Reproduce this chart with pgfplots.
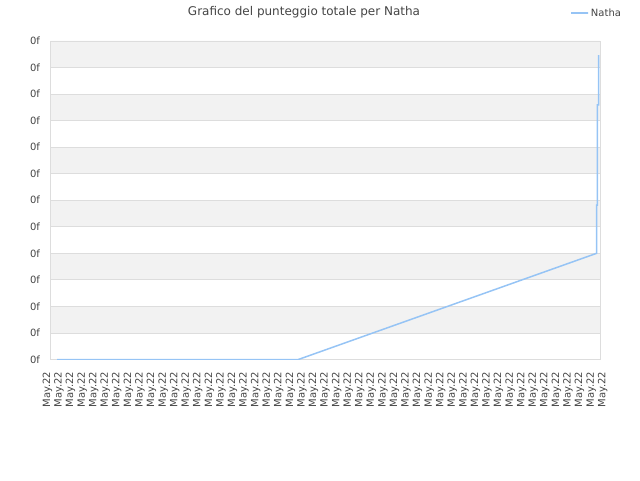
\documentclass[border=0pt]{standalone}
\usepackage{fontspec}
\setmainfont{DejaVu Sans}
\usepackage{pgfplots}
\pgfplotsset{compat=1.18}
\definecolor{linec}{RGB}{150,196,245}
\definecolor{band}{RGB}{242,242,242}
\definecolor{gridc}{RGB}{221,221,221}
\definecolor{txt}{RGB}{68,68,68}
\begin{document}
\begin{tikzpicture}[x=1pt,y=1pt]
\path (0,0) rectangle (640,480);
\node[font=\fontsize{12}{14}\selectfont, text=txt] at (304,468) {Grafico del punteggio totale per Natha};
\begin{axis}[
  set layers,
  at={(50.5pt,120.5pt)}, anchor=south west,
  scale only axis, width=549.5pt, height=318.5pt,
  xmin=0, xmax=48, ymin=0, ymax=12,
  xtick={0,...,48}, ytick={0,...,12},
  xticklabel={May.22}, yticklabel={0f},
  major tick length=0pt,
  ymajorgrids, major grid style={gridc, line width=0.8pt},
  axis line style={gridc, line width=0.8pt},
  xticklabel style={xshift={-3.1pt+0.12pt*\ticknum}, rotate=90, anchor=east, font=\fontsize{10}{12}\selectfont, text=txt},
  yticklabel style={anchor=east, font=\fontsize{10}{12}\selectfont, text=txt},
  xticklabel shift={9pt},
  yticklabel shift={7pt},
  legend style={draw=none, fill=none, at={(rel axis cs:0.94,1.088)}, anchor=west,
    font=\fontsize{10}{12}\selectfont, text=txt},
  legend image code/.code={\path (0pt,0pt) rectangle (17pt,0pt); \draw[#1, line width=2pt] (0pt,0pt) -- (10pt,0pt);},
]
\addplot[draw=none, fill=band, forget plot, on layer=axis background] coordinates {(0,1) (48,1) (48,2) (0,2) (0,1)};
\addplot[draw=none, fill=band, forget plot, on layer=axis background] coordinates {(0,3) (48,3) (48,4) (0,4) (0,3)};
\addplot[draw=none, fill=band, forget plot, on layer=axis background] coordinates {(0,5) (48,5) (48,6) (0,6) (0,5)};
\addplot[draw=none, fill=band, forget plot, on layer=axis background] coordinates {(0,7) (48,7) (48,8) (0,8) (0,7)};
\addplot[draw=none, fill=band, forget plot, on layer=axis background] coordinates {(0,9) (48,9) (48,10) (0,10) (0,9)};
\addplot[draw=none, fill=band, forget plot, on layer=axis background] coordinates {(0,11) (48,11) (48,12) (0,12) (0,11)};
\addplot[linec, line width=1.5pt] coordinates {
(0.57,0) (21.65,0) (47.7,4.0) (47.7,5.82) (47.77,5.82) (47.77,9.59) (47.87,9.59) (47.87,11.47)
};
\addlegendentry{Natha}
\end{axis}
\end{tikzpicture}
\end{document}
